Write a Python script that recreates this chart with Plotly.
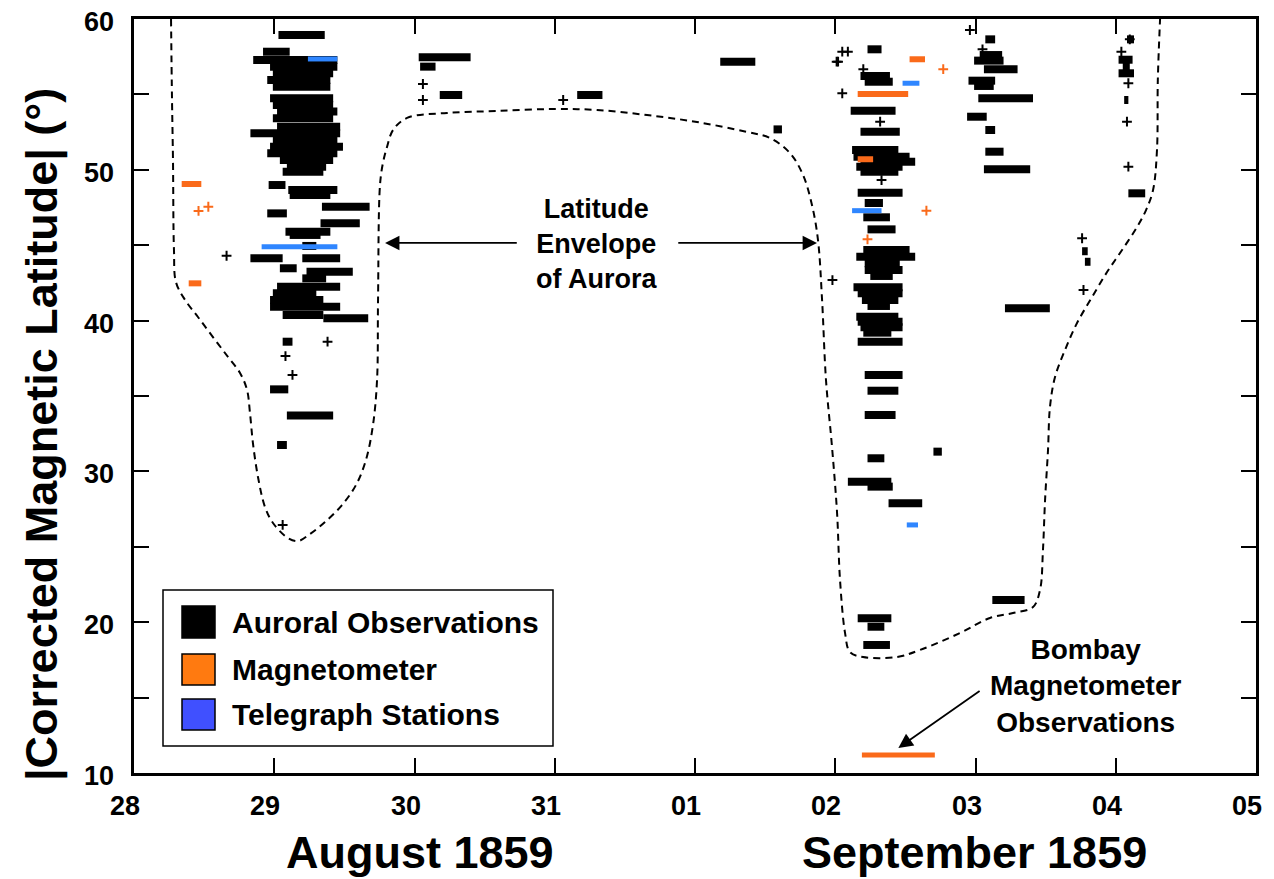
import plotly.graph_objects as go

# ---------------- data (day number: Aug 28 = 28 ... Sep 01 = 32 ... Sep 05 = 36) ----------
tick_vals = [28, 29, 30, 31, 32, 33, 34, 35, 36]
tick_text = ["28", "29", "30", "31", "01", "02", "03", "04", "05"]
ytick_vals = [10, 15, 20, 25, 30, 35, 40, 45, 50, 55, 60]
ytick_label_vals = [10, 20, 30, 40, 50, 60]
ytick_text = ["10", "20", "30", "40", "50", "60"]

# Auroral observations: interval start, interval end, latitude
aur_start = [29.03, 28.92, 28.85, 28.97, 28.99, 28.95, 28.99, 28.97, 28.99, 29.02, 28.99, 29.02,
             28.83, 28.99, 28.97, 28.95, 29.04, 29.09, 29.06, 28.96, 29.10, 29.11, 29.34, 28.95,
             29.33, 29.08, 29.11, 29.20, 28.83, 29.20, 29.04, 29.23, 29.20, 29.02, 28.99, 28.97,
             28.97, 29.06, 29.35, 29.06, 28.97, 29.09, 29.02,
             30.03, 30.04, 30.18, 31.16, 32.18, 32.56,
             33.23, 33.18, 33.21, 33.11, 33.18, 33.12, 33.13, 33.18, 33.15, 33.18, 33.16, 33.21,
             33.20, 33.23, 33.20, 33.15, 33.21, 33.21, 33.25, 33.13, 33.16, 33.19, 33.23, 33.15,
             33.16, 33.18, 33.20, 33.16, 33.21, 33.23, 33.21, 33.23, 33.70, 33.09, 33.23, 33.38,
             33.16, 33.23, 33.20,
             34.07, 34.03, 33.99, 34.06, 33.95, 33.99, 34.02, 33.94, 34.07, 34.07, 34.06, 34.21,
             34.12,
             35.08, 35.02, 35.05, 35.02, 35.06, 35.09, 34.76, 34.78]
aur_end = [29.36, 29.11, 29.45, 29.45, 29.42, 29.40, 29.40, 29.42, 29.42, 29.45, 29.42, 29.47,
           29.47, 29.45, 29.49, 29.45, 29.42, 29.37, 29.35, 29.08, 29.45, 29.40, 29.68, 29.09,
           29.61, 29.40, 29.33, 29.30, 29.06, 29.47, 29.16, 29.56, 29.37, 29.47, 29.30, 29.35,
           29.47, 29.35, 29.67, 29.13, 29.10, 29.42, 29.09,
           30.40, 30.15, 30.34, 31.34, 32.43, 32.62,
           33.33, 33.39, 33.41, 33.43, 33.46, 33.45, 33.53, 33.57, 33.48, 33.45, 33.48, 33.34,
           33.39, 33.43, 33.53, 33.57, 33.46, 33.48, 33.41, 33.48, 33.48, 33.45, 33.39, 33.45,
           33.48, 33.48, 33.40, 33.48, 33.48, 33.45, 33.43, 33.35, 33.76, 33.40, 33.41, 33.62,
           33.40, 33.35, 33.39,
           34.14, 34.19, 34.20, 34.30, 34.14, 34.13, 34.41, 34.08, 34.14, 34.20, 34.39, 34.53,
           34.35,
           35.13, 35.12, 35.10, 35.13, 35.09, 35.21, 34.80, 34.82]
aur_lat = [58.94, 57.83, 57.28, 56.84, 56.40, 55.95, 55.51, 54.74, 54.30, 53.86, 53.42, 52.86,
           52.42, 51.98, 51.53, 51.09, 50.65, 50.21, 49.87, 48.99, 48.66, 48.33, 47.55, 47.11,
           46.45, 45.90, 45.68, 44.95, 44.13, 44.13, 43.47, 43.24, 42.80, 42.25, 41.81, 41.37,
           40.92, 40.37, 40.15, 38.60, 35.44, 33.70, 31.75,
           57.46, 56.84, 54.96, 54.96, 57.17, 52.68,
           57.99, 56.22, 55.84, 53.92, 52.53, 51.31, 50.87, 50.54, 50.21, 49.87, 48.48, 47.80,
           46.85, 46.05, 44.68, 44.24, 43.80, 43.36, 42.96, 42.21, 41.81, 41.37, 40.97, 40.26,
           39.93, 39.56, 39.20, 38.60, 36.39, 35.35, 33.74, 30.87, 31.31, 29.32, 28.99, 27.88,
           20.26, 19.70, 18.49,
           58.65, 57.61, 57.24, 56.67, 55.91, 55.56, 54.74, 53.52, 52.64, 51.20, 50.03, 40.82,
           21.47,
           58.65, 57.30, 56.85, 56.40, 54.63, 48.44, 44.60, 43.90]

# single auroral reports (crosses)
aur_pt_day = [29.38, 29.08, 29.13, 29.06, 28.66, 30.06, 30.06, 31.06, 33.01, 33.05, 33.09, 33.02,
              33.20, 33.05, 33.32, 33.33, 32.98, 33.96, 34.05, 35.10, 35.04, 35.09, 35.08, 35.09,
              34.76, 34.77]
aur_pt_lat = [38.60, 37.65, 36.40, 26.45, 44.30, 55.69, 54.63, 54.63, 57.17, 57.83, 57.83, 57.17,
              56.67, 55.07, 53.19, 49.32, 42.69, 59.27, 57.99, 58.65, 57.83, 55.74, 53.19, 50.21,
              45.46, 42.03]

# magnetometer
mag_start = [28.34, 28.39, 33.53, 33.16, 33.16]
mag_end = [28.48, 28.48, 33.64, 33.52, 33.27]
mag_lat = [49.06, 42.47, 57.33, 55.03, 50.70]
mag_pt_day = [28.46, 28.53, 33.77, 33.65, 33.23]
mag_pt_lat = [47.27, 47.55, 56.67, 47.29, 45.39]

# Bombay magnetometer
bombay_start = [33.19]
bombay_end = [33.71]
bombay_lat = [11.19]

# telegraph stations
tel_start = [29.24, 28.91, 33.48, 33.12, 33.51]
tel_end = [29.45, 29.45, 33.60, 33.33, 33.59]
tel_lat = [57.35, 44.90, 55.74, 47.29, 26.45]

# latitude envelope of aurora
env_day = [28.264, 28.271, 28.278, 28.285, 28.299, 28.364, 28.456, 28.563, 28.670, 28.756,
           28.806, 28.827, 28.848, 28.884, 28.934, 28.991, 29.098, 29.169, 29.255, 29.362,
           29.483, 29.583, 29.654, 29.704, 29.733, 29.740, 29.754, 29.775, 29.804, 29.847,
           29.947, 30.232, 30.588, 30.988, 31.301, 31.658, 32.014, 32.371, 32.535, 32.677,
           32.770, 32.834, 32.877, 32.906, 32.934, 32.977, 33.013, 33.034, 33.070, 33.105,
           33.198, 33.440, 33.604, 33.889, 34.103, 34.267, 34.410, 34.460, 34.481, 34.496,
           34.517, 34.531, 34.567, 34.638, 34.724, 34.831, 34.938, 35.045, 35.152, 35.216,
           35.266, 35.294, 35.300, 35.316]
env_lat = [60.00, 54.63, 50.65, 44.68, 42.56, 41.37, 40.24, 38.91, 37.59, 36.53,
           35.40, 33.87, 31.88, 29.63, 27.64, 26.58, 25.58, 25.38, 25.85, 26.64,
           27.77, 29.10, 30.76, 33.08, 36.06, 41.37, 48.99, 50.45, 51.51, 52.64,
           53.44, 53.77, 53.90, 54.03, 53.97, 53.63, 53.17, 52.51, 52.11, 51.11,
           49.66, 47.67, 45.34, 41.37, 36.06, 31.62, 27.24, 22.80, 19.28, 18.02,
           17.69, 17.69, 18.16, 19.28, 20.28, 20.61, 21.01, 22.14, 24.79, 28.10,
           31.42, 34.27, 36.26, 38.05, 39.84, 41.56, 43.22, 44.68, 46.21, 47.33,
           48.66, 51.31, 55.95, 60.00]

BLACK = "#000000"
ORANGE = "#FA6A1A"
BLUE = "#2F86FF"
FONT = "Liberation Sans, Arial, sans-serif"


def segs(starts, ends, lats):
    xs, ys = [], []
    for s, e, l in zip(starts, ends, lats):
        xs += [s, e, None]
        ys += [l, l, None]
    return xs, ys


fig = go.Figure()

fig.add_trace(go.Scatter(x=env_day, y=env_lat, mode="lines",
                         line=dict(color=BLACK, width=2, dash="7px,5px"),
                         line_shape="spline", hoverinfo="skip"))

x, y = segs(aur_start, aur_end, aur_lat)
fig.add_trace(go.Scatter(x=x, y=y, mode="lines", line=dict(color=BLACK, width=8)))
fig.add_trace(go.Scatter(x=aur_pt_day, y=aur_pt_lat, mode="markers",
                         marker=dict(symbol="cross-thin", size=7, line=dict(color=BLACK, width=2))))

x, y = segs(mag_start, mag_end, mag_lat)
fig.add_trace(go.Scatter(x=x, y=y, mode="lines", line=dict(color=ORANGE, width=6)))
fig.add_trace(go.Scatter(x=mag_pt_day, y=mag_pt_lat, mode="markers",
                         marker=dict(symbol="cross-thin", size=7, line=dict(color=ORANGE, width=2))))
x, y = segs(bombay_start, bombay_end, bombay_lat)
fig.add_trace(go.Scatter(x=x, y=y, mode="lines", line=dict(color=ORANGE, width=5)))

x, y = segs(tel_start, tel_end, tel_lat)
fig.add_trace(go.Scatter(x=x, y=y, mode="lines", line=dict(color=BLUE, width=5)))

# ---------------- layout ----------------
# page has an 8px body margin; plot area wanted at page px x 134..1256, y 19..773
OFF = 8
W, H = 1274 - OFF, 879 - OFF
PL, PR, PT, PB = 134, 1256, 19, 773
L, R, T, B = PL - OFF, W - (PR - OFF), PT - OFF, H - (PB - OFF)
PW, PH = PR - PL, PB - PT


def pxx(px):
    return (px - PL) / PW


def pyy(py):
    return (PB - py) / PH


axis_common = dict(showline=True, linewidth=2.5, linecolor=BLACK, mirror="ticks",
                   ticks="inside", ticklen=15, tickwidth=2, tickcolor=BLACK,
                   showgrid=False, zeroline=False, showticklabels=False)

fig.update_layout(
    width=W, height=H, margin=dict(l=L, r=R, t=T, b=B, autoexpand=False),
    paper_bgcolor="white", plot_bgcolor="white", showlegend=False,
    xaxis=dict(range=[28, 36], tickvals=tick_vals, **axis_common),
    yaxis=dict(range=[10, 60], tickvals=ytick_vals, **axis_common),
)

shapes = []
annos = []
tick_font = dict(family=FONT, size=27, color=BLACK, weight="bold")
for v, t in zip(tick_vals, tick_text):
    annos.append(dict(xref="x", yref="paper", x=v, y=pyy(806), text=t, showarrow=False,
                      xanchor="center", yanchor="middle", xshift=-9, font=tick_font))
for v, t in zip(ytick_label_vals, ytick_text):
    annos.append(dict(xref="paper", yref="y", x=pxx(116), y=v, text=t, showarrow=False,
                      xanchor="right", yanchor="middle", yshift=-3, font=tick_font))

# legend box
shapes.append(dict(type="rect", xref="paper", yref="paper", x0=pxx(163), x1=pxx(553),
                   y0=pyy(746), y1=pyy(590), line=dict(color=BLACK, width=1.5), fillcolor="white"))
leg = [("Auroral Observations", "#000000", 606, 638),
       ("Magnetometer", "#FF7A10", 654, 685),
       ("Telegraph Stations", "#4050FF", 699, 730)]
for name, col, y0, y1 in leg:
    shapes.append(dict(type="rect", xref="paper", yref="paper", x0=pxx(182), x1=pxx(215),
                       y0=pyy(y1), y1=pyy(y0), line=dict(color=BLACK, width=1.5), fillcolor=col))
    annos.append(dict(xref="paper", yref="paper", x=pxx(230), y=pyy((y0 + y1) / 2), text=name,
                      showarrow=False, xanchor="left", yanchor="middle",
                      font=dict(family=FONT, size=30, color=BLACK, weight="bold")))

# axis titles
title_font = dict(family=FONT, size=45, color=BLACK, weight="bold")
annos.append(dict(xref="paper", yref="paper", x=pxx(420), y=pyy(853), text="August 1859",
                  showarrow=False, xanchor="center", yanchor="middle", font=title_font))
annos.append(dict(xref="paper", yref="paper", x=pxx(974), y=pyy(853), text="September 1859",
                  showarrow=False, xanchor="center", yanchor="middle", font=title_font))
annos.append(dict(xref="paper", yref="paper", x=pxx(42), y=pyy(435),
                  text="|Corrected Magnetic Latitude| (°)", textangle=-90,
                  showarrow=False, xanchor="center", yanchor="middle", font=title_font))

# envelope label and arrows
annos.append(dict(xref="paper", yref="paper", x=pxx(596), y=pyy(244),
                  text="Latitude<br>Envelope<br>of Aurora", showarrow=False,
                  xanchor="center", yanchor="middle", align="center",
                  font=dict(family=FONT, size=27, color=BLACK, weight="bold")))
for tip_x, tail_x in [(29.79, 30.74), (32.87, 31.87)]:
    annos.append(dict(x=tip_x, y=45.15, ax=tail_x, ay=45.15, xref="x", yref="y",
                      axref="x", ayref="y", text="", showarrow=True, arrowhead=2,
                      arrowsize=1.6, arrowwidth=1.8, arrowcolor=BLACK))

annos.append(dict(xref="paper", yref="paper", x=pxx(1085), y=pyy(686),
                  text="Bombay<br>Magnetometer<br>Observations", showarrow=False,
                  xanchor="center", yanchor="middle", align="center",
                  font=dict(family=FONT, size=28, color=BLACK, weight="bold")))
annos.append(dict(x=33.45, y=11.66, ax=34.04, ay=15.5, xref="x", yref="y",
                  axref="x", ayref="y", text="", showarrow=True, arrowhead=2,
                  arrowsize=1.6, arrowwidth=1.8, arrowcolor=BLACK))

fig.update_layout(shapes=shapes, annotations=annos)
fig.write_html("out.html")
